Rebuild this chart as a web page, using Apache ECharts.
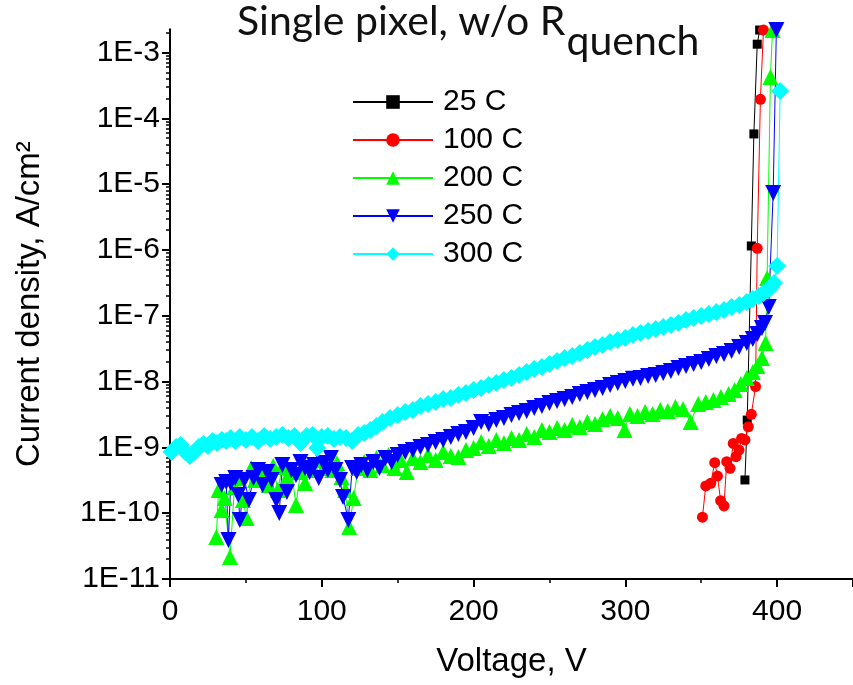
<!DOCTYPE html>
<html><head><meta charset="utf-8">
<script src="https://cdn.jsdelivr.net/npm/echarts@6/dist/echarts.min.js"></script>
<style>html,body{margin:0;padding:0;background:#fff}#c{width:853px;height:685px}</style>
</head><body><div id="c"></div>
<script>
// ---- data (Voltage V, Current density A/cm^2) ----
const seriesNames = ['25 C', '100 C', '200 C', '250 C', '300 C'];

const v25 = [378.8, 380.3, 383, 384.7, 386.9, 388.5];
const j25 = [3.2e-10, 2.6e-9, 1.15e-6, 5.8e-5, 1.34e-3, 2.2e-3];

const v100 = [350.8, 353, 356.3, 358.9, 360.7, 362.8, 365, 366.8, 369, 371.1, 372.9, 374.9, 376.6, 378.8, 381, 383, 385.8, 386.9, 389, 391];
const j100 = [8.7e-11, 2.6e-10, 2.85e-10, 5.85e-10, 3.67e-10, 1.55e-10, 1.29e-10, 6.07e-10, 4.81e-10, 1.15e-9, 7.22e-10, 9.1e-10, 1.37e-9, 1.3e-9, 2.06e-9, 3.18e-9, 8.4e-9, 1.06e-6, 1.95e-4, 2.2e-3];

const v200 = [30.5, 32, 34, 36, 39.5, 42.5, 45, 48, 50.5, 53.5,
  56, 59, 62, 65, 68, 71, 74, 77, 80, 83,
  86, 89, 92, 95, 98, 101, 104, 107, 110, 113,
  115.5, 118, 121, 124, 128, 132, 136, 140, 144, 148,
  152, 156, 160, 165, 170, 175, 180, 185, 190, 195,
  200, 205, 210, 215, 220, 225, 230, 235, 240, 245,
  250, 255, 260, 265, 270, 275, 280, 285, 290, 295,
  299.5, 303, 308, 313, 318, 323, 328, 333, 338, 343,
  348, 353, 358, 363, 368, 372, 376, 380, 384, 387,
  390, 392.4, 393.4, 395.6, 397];
const j200 = [4.35e-11, 2.25e-10, 1.12e-10, 1.70e-10, 2.16e-11, 2.50e-10, 3.43e-10, 1.59e-10, 8.45e-11, 4.86e-10,
  3.20e-10, 3.81e-10, 4.54e-10, 2.68e-10, 5.22e-10, 2.25e-10, 5.04e-10, 3.43e-10, 4.54e-10, 1.33e-10,
  4.23e-10, 2.88e-10, 5.41e-10, 4.54e-10, 6.44e-10, 4.86e-10, 6.00e-10, 4.54e-10, 5.79e-10, 3.55e-10,
  2.25e-10, 6.17e-11, 1.70e-10, 4.86e-10, 6.00e-10, 4.54e-10, 6.90e-10, 5.41e-10, 7.66e-10, 4.86e-10,
  6.44e-10, 4.23e-10, 6.90e-10, 6.00e-10, 7.66e-10, 6.44e-10, 8.51e-10, 7.40e-10, 7.15e-10, 9.12e-10,
  9.8e-10, 1.21e-9, 1.05e-9, 1.30e-9, 1.17e-9, 1.39e-9, 1.30e-9, 1.60e-9, 1.44e-9, 1.84e-9,
  1.71e-9, 1.97e-9, 1.84e-9, 2.19e-9, 2.04e-9, 2.43e-9, 2.27e-9, 2.70e-9, 3.00e-9, 2.80e-9,
  1.84e-9, 3.22e-9, 3.00e-9, 3.45e-9, 3.22e-9, 3.70e-9, 3.57e-9, 4.11e-9, 3.83e-9, 2.43e-9,
  4.57e-9, 4.90e-9, 5.25e-9, 5.83e-9, 6.48e-9, 7.45e-9, 9.20e-9, 1.13e-8, 1.40e-8, 1.72e-8,
  2.28e-8, 3.86e-8, 3.76e-7, 4.26e-4, 2.2e-3];

const v250 = [34, 37, 38.5, 40, 43, 45, 46, 49, 52, 55,
  58, 61, 64, 67, 70, 72, 74, 77, 80, 83,
  86, 89, 92, 95, 98, 101, 104, 106, 109, 112,
  114, 117.5, 120, 123, 126, 130, 134, 138, 142, 146,
  150, 155, 160, 165, 170, 175, 180, 185, 190, 195,
  200, 205, 210, 215, 220, 225, 230, 235, 240, 245,
  250, 255, 260, 265, 270, 275, 280, 285, 290, 295,
  300, 305, 310, 315, 320, 325, 330, 335, 340, 345,
  350, 355, 360, 365, 370, 375, 380, 384, 387, 390,
  392, 394.5, 397.4, 399.5];
const j250 = [2.68e-10, 2.98e-10, 3.91e-11, 2.88e-10, 3.43e-10, 1.89e-10, 7.88e-11, 3.20e-10, 1.59e-10, 3.43e-10,
  4.54e-10, 2.68e-10, 4.23e-10, 3.20e-10, 1.59e-10, 1.01e-10, 5.41e-10, 2.10e-10, 4.54e-10, 3.81e-10,
  6.00e-10, 4.86e-10, 4.23e-10, 5.41e-10, 3.43e-10, 5.79e-10, 4.54e-10, 6.90e-10, 4.54e-10, 3.20e-10,
  1.76e-10, 7.88e-11, 4.86e-10, 4.23e-10, 5.41e-10, 4.54e-10, 6.00e-10, 4.86e-10, 6.90e-10, 6.00e-10,
  7.66e-10, 8.51e-10, 9.12e-10, 1.01e-9, 1.09e-9, 1.21e-9, 1.30e-9, 1.44e-9, 1.60e-9, 1.71e-9,
  1.97e-9, 2.43e-9, 2.27e-9, 2.61e-9, 2.80e-9, 3.11e-9, 3.33e-9, 3.57e-9, 3.97e-9, 4.26e-9,
  4.73e-9, 5.07e-9, 5.44e-9, 5.83e-9, 6.48e-9, 6.95e-9, 7.45e-9, 8.00e-9, 8.88e-9, 9.53e-9,
  1.02e-8, 1.10e-8, 1.13e-8, 1.22e-8, 1.26e-8, 1.35e-8, 1.45e-8, 1.61e-8, 1.72e-8, 1.85e-8,
  1.99e-8, 2.20e-8, 2.45e-8, 2.63e-8, 2.92e-8, 3.36e-8, 3.86e-8, 4.44e-8, 5.29e-8, 6.53e-8,
  7.78e-8, 1.36e-7, 7.35e-6, 2.2e-3];

const v300 = [1, 4, 7, 10, 13, 16, 19, 22, 25, 28,
  31, 34, 37, 40, 43, 46, 50, 54, 58, 62,
  66, 70, 74, 78, 82, 86, 90, 94, 97, 100,
  104, 108, 112, 116, 120, 124, 128, 132, 136, 140,
  145, 150, 155, 160, 165, 170, 175, 180, 185, 190,
  195, 200, 205, 210, 215, 220, 225, 230, 235, 240,
  245, 250, 255, 260, 265, 270, 275, 280, 285, 290,
  295, 300, 305, 310, 315, 320, 325, 330, 335, 340,
  345, 350, 355, 360, 365, 370, 375, 380, 384, 388,
  391, 394, 396, 398, 400, 402];
const j300 = [8.51e-10, 1.01e-9, 1.09e-9, 8.51e-10, 7.40e-10, 8.51e-10, 1.01e-9, 1.13e-9, 1.05e-9, 1.25e-9,
  1.17e-9, 1.30e-9, 1.25e-9, 1.39e-9, 1.25e-9, 1.44e-9, 1.30e-9, 1.44e-9, 1.25e-9, 1.49e-9,
  1.34e-9, 1.44e-9, 1.54e-9, 1.39e-9, 1.49e-9, 1.17e-9, 1.49e-9, 1.54e-9, 9.8e-10, 1.44e-9,
  1.49e-9, 1.34e-9, 1.44e-9, 1.39e-9, 1.25e-9, 1.54e-9, 1.66e-9, 1.84e-9, 2.11e-9, 2.43e-9,
  2.80e-9, 3.11e-9, 3.45e-9, 3.70e-9, 4.26e-9, 4.57e-9, 4.90e-9, 5.44e-9, 5.63e-9, 6.26e-9,
  6.71e-9, 7.45e-9, 8.00e-9, 8.88e-9, 9.53e-9, 1.06e-8, 1.13e-8, 1.26e-8, 1.40e-8, 1.55e-8,
  1.67e-8, 1.85e-8, 2.06e-8, 2.28e-8, 2.45e-8, 2.72e-8, 3.02e-8, 3.36e-8, 3.60e-8, 4.00e-8,
  4.29e-8, 4.60e-8, 5.11e-8, 5.48e-8, 5.87e-8, 6.30e-8, 6.76e-8, 7.25e-8, 7.78e-8, 8.63e-8,
  9.27e-8, 9.93e-8, 1.06e-7, 1.14e-7, 1.22e-7, 1.36e-7, 1.46e-7, 1.62e-7, 1.80e-7, 2.00e-7,
  2.22e-7, 2.47e-7, 2.74e-7, 3.15e-7, 5.72e-7, 2.6e-4];

// axis ranges / ticks
const xMin = 0, xMax = 450, xStep = 100;
const yMinExp = -11, yMaxExp = -2.645;   // log10 of 1E-11 .. ~2.3E-3
const yMinorMultipliers = [2, 3, 4, 5, 6, 7, 8, 9];
const titleMain = 'Single pixel, w/o R';
const titleSub = 'quench';

// ---- build ----
const FONT = "'Liberation Sans', Arial, sans-serif";
const TFONT = "Lato, 'Open Sans', sans-serif";
function toPts(v, j) { return v.map((x, i) => [x, Math.log10(j[i])]); }
const minorY = [];
for (let n = yMinExp; n <= Math.floor(yMaxExp); n++) {
  yMinorMultipliers.forEach(k => { const val = n + Math.log10(k); if (val < yMaxExp) minorY.push(val); });
}

// title layout: measure main part so subscript follows it
const TSIZE = 41;
const mctx = document.createElement('canvas').getContext('2d');
mctx.font = 'normal ' + TSIZE + 'px ' + TFONT;
const mainW = mctx.measureText(titleMain).width;

const styles = [
  { color: '#000000', symbol: 'rect', size: 9, rot: 0 },
  { color: '#ff0000', symbol: 'circle', size: 11, rot: 0 },
  { color: '#00ff00', symbol: 'triangle', size: 16, rot: 0 },
  { color: '#0000ff', symbol: 'triangle', size: 16, rot: 180 },
  { color: '#00ffff', symbol: 'diamond', size: 18, rot: 0 }
];
const dataSets = [toPts(v25, j25), toPts(v100, j100), toPts(v200, j200), toPts(v250, j250), toPts(v300, j300)];

const series = dataSets.map((d, i) => ({
  name: seriesNames[i],
  type: 'line',
  data: d,
  symbol: styles[i].symbol,
  symbolSize: styles[i].size,
  symbolRotate: styles[i].rot,
  showAllSymbol: true,
  color: styles[i].color,
  lineStyle: { color: styles[i].color, width: 1 },
  itemStyle: { color: styles[i].color },
  emphasis: { disabled: true },
  clip: true
}));

const chart = echarts.init(document.getElementById('c'), null, { renderer: 'canvas' });
chart.setOption({
  animation: false,
  backgroundColor: '#ffffff',
  graphic: [
    { type: 'text', left: 237, top: 1, style: { text: titleMain, font: 'normal ' + TSIZE + 'px ' + TFONT, fill: '#111' } },
    { type: 'text', left: 237 + mainW + 1, top: 21, style: { text: titleSub, font: 'normal ' + TSIZE + 'px ' + TFONT, fill: '#111' } }
  ],
  legend: {
    orient: 'vertical', left: 352, top: 87, padding: 0,
    itemWidth: 80, itemHeight: 17, itemGap: 8,
    data: seriesNames,
    textStyle: { fontFamily: FONT, fontSize: 30, lineHeight: 30, color: '#000', padding: [0, 0, 0, 5] }
  },
  grid: { left: 170, right: -3, top: 29.2, bottom: 106 },
  xAxis: {
    type: 'value', min: xMin, max: xMax, interval: xStep,
    name: 'Voltage, V', nameLocation: 'middle', nameGap: 66,
    nameTextStyle: { fontFamily: FONT, fontSize: 33, color: '#000' },
    axisLine: { show: true, onZero: false, lineStyle: { color: '#000', width: 2 } },
    axisTick: { show: true, length: 8, lineStyle: { color: '#000', width: 2 } },
    minorTick: { show: true, splitNumber: 2, length: 4, lineStyle: { color: '#000', width: 1.5 } },
    axisLabel: { fontFamily: FONT, fontSize: 30, color: '#000', margin: 18, showMaxLabel: false },
    splitLine: { show: false }
  },
  yAxis: [{
    type: 'value', min: yMinExp, max: yMaxExp, interval: 1,
    name: 'Current density, A/cm²', nameLocation: 'middle', nameGap: 124, nameRotate: 90,
    nameTextStyle: { fontFamily: FONT, fontSize: 33, color: '#000' },
    axisLine: { show: true, onZero: false, lineStyle: { color: '#000', width: 2 } },
    axisTick: { show: true, length: 8, lineStyle: { color: '#000', width: 2 } },
    axisLabel: { fontFamily: FONT, fontSize: 30, color: '#000', margin: 10, showMaxLabel: false,
      formatter: v => '1E' + Math.round(v) },
    splitLine: { show: false }
  }, {
    type: 'value', min: yMinExp, max: yMaxExp, position: 'left', offset: 0,
    axisLine: { show: false },
    axisTick: { show: true, length: 4, customValues: minorY, lineStyle: { color: '#000', width: 1.5 } },
    axisLabel: { show: false },
    splitLine: { show: false }
  }],
  series: series
});
</script>
</body></html>
